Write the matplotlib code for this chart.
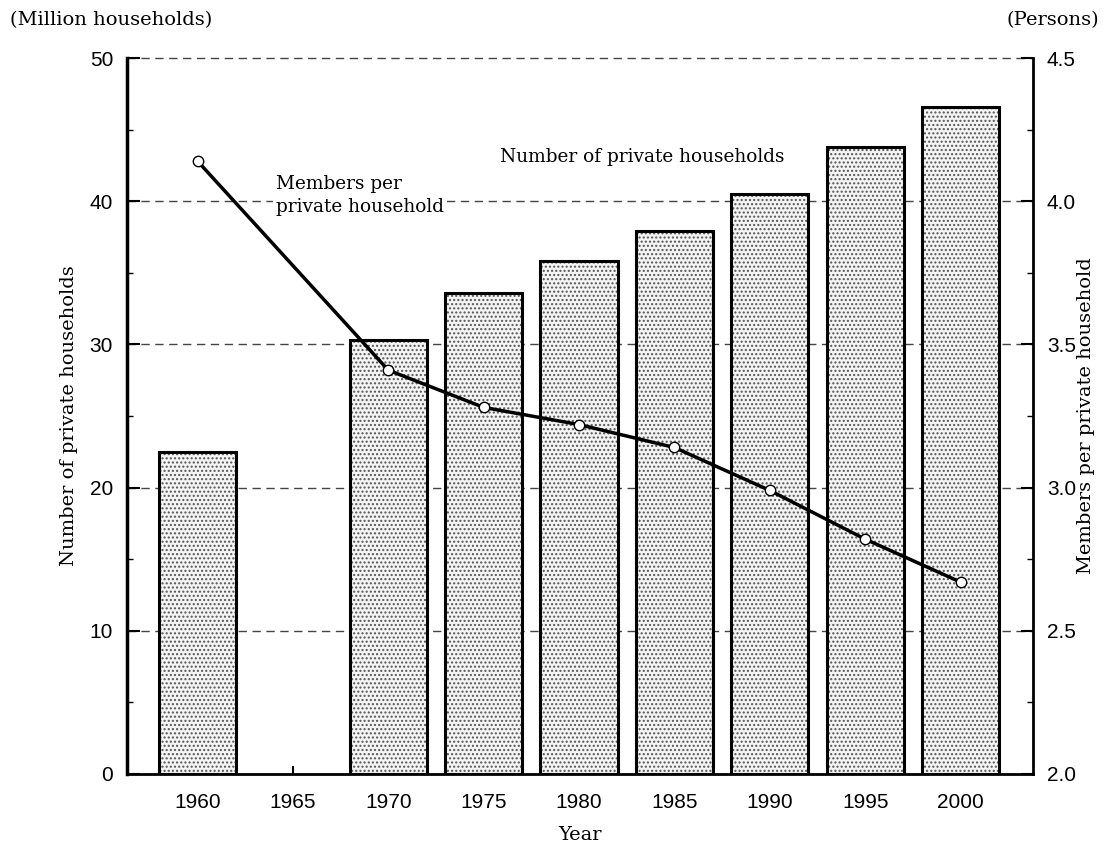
import numpy as np
import matplotlib
matplotlib.use("Agg")
import matplotlib.pyplot as plt
from matplotlib.ticker import MultipleLocator

# data
years = ["1960", "1965", "1970", "1975", "1980", "1985", "1990", "1995", "2000"]
households = [22.5, np.nan, 30.3, 33.6, 35.8, 37.9, 40.5, 43.8, 46.6]  # million
members = [4.14, np.nan, 3.41, 3.28, 3.22, 3.14, 2.99, 2.82, 2.67]  # persons

serif = "DejaVu Serif"
sans = "Liberation Sans"

fig = plt.figure(figsize=(11.04, 8.48), dpi=100)
ax = fig.add_axes([0.115, 0.0873, 0.8207, 0.8443])
ax2 = ax.twinx()

x = np.arange(len(years))
hh = np.array(households)
ok = ~np.isnan(hh)

# dotted fill, then a solid black outline on top
ax.bar(x[ok], hh[ok], width=0.81, color="#f4f4f4", edgecolor="#555555",
       hatch="....", linewidth=0, zorder=2)
ax.bar(x[ok], hh[ok], width=0.81, fill=False, edgecolor="black",
       linewidth=2.2, zorder=3)

# dashed grid behind bars
for v in [10, 20, 30, 40, 50]:
    ax.axhline(v, color="#444444", linestyle=(0, (6, 4)), linewidth=1.0,
               zorder=1, clip_on=False)

ax.set_xlim(-0.74, 8.76)
ax.set_ylim(0, 50)
ax.set_xticks(x)
ax.set_xticklabels(years, fontfamily=sans, fontsize=15)
ax.yaxis.set_major_locator(MultipleLocator(10))
ax.yaxis.set_minor_locator(MultipleLocator(5))
ax.tick_params(axis="y", which="major", direction="in", length=9, width=1.5,
               labelsize=15, pad=10)
ax.tick_params(axis="y", which="minor", direction="in", length=4, width=1)
ax.tick_params(axis="x", which="major", direction="in", length=6, width=1.5,
               pad=14)
for lab in ax.get_yticklabels():
    lab.set_fontfamily(sans)

ax.spines["top"].set_visible(False)
ax.spines["left"].set_linewidth(2.5)
ax.spines["bottom"].set_linewidth(2)
ax.spines["right"].set_visible(False)

# members per household line
mm = np.array(members)
ok2 = ~np.isnan(mm)
ax2.plot(x[ok2], mm[ok2], color="black", linewidth=2.5, marker="o",
         markersize=7.5, markerfacecolor="white", markeredgecolor="black",
         markeredgewidth=1, zorder=5)
ax2.set_ylim(2.0, 4.5)
ax2.yaxis.set_major_locator(MultipleLocator(0.5))
ax2.yaxis.set_minor_locator(MultipleLocator(0.25))
ax2.yaxis.set_major_formatter(matplotlib.ticker.FormatStrFormatter("%.1f"))
ax2.tick_params(axis="y", which="major", direction="in", length=9, width=1.5,
                labelsize=15, pad=10)
ax2.tick_params(axis="y", which="minor", direction="in", length=4, width=1)
for lab in ax2.get_yticklabels():
    lab.set_fontfamily(sans)
ax2.spines["top"].set_visible(False)
ax2.spines["left"].set_visible(False)
ax2.spines["bottom"].set_visible(False)
ax2.spines["right"].set_linewidth(2)
ax2.set_zorder(ax.get_zorder() + 1)
ax2.patch.set_visible(False)

ax.set_xlabel("Year", fontfamily=serif, fontsize=14)
ax.xaxis.set_label_coords(0.5, -0.072)
ax.set_ylabel("Number of private households", fontfamily=serif, fontsize=14)
ax.yaxis.set_label_coords(-0.054, 0.5)
ax2.set_ylabel("Members per private household", fontfamily=serif, fontsize=14)
ax2.yaxis.set_label_coords(1.048, 0.5)

fig.text(0.009, 0.976, "(Million households)", fontfamily=serif, fontsize=14,
         ha="left", va="center")
fig.text(0.996, 0.976, "(Persons)", fontfamily=serif, fontsize=14,
         ha="right", va="center")

ax.text(3.17, 43.1, "Number of private households", fontfamily=serif,
        fontsize=13.3, ha="left", va="center", zorder=4)
ax.text(0.82, 40.4, "Members per\nprivate household", fontfamily=serif,
        fontsize=13.3, ha="left", va="center", linespacing=1.3, zorder=4,
        bbox=dict(facecolor="white", edgecolor="none", pad=2))

fig.savefig("out.png", dpi=100)
